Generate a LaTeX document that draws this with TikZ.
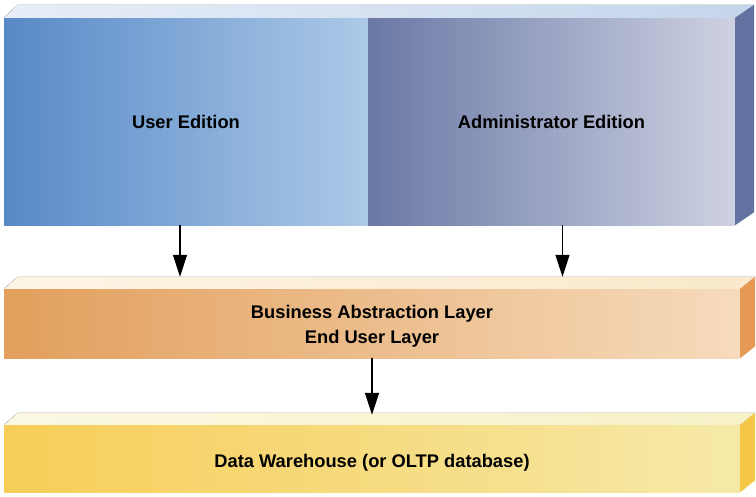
\documentclass[tikz,border=0pt]{standalone}
\usepackage{fontspec}
\setmainfont{Liberation Sans}
\usepackage{tikz}
\usetikzlibrary{arrows.meta}

\definecolor{ueleft}{RGB}{88,137,199}
\definecolor{ueright}{RGB}{172,201,231}
\definecolor{aeleft}{RGB}{106,121,165}
\definecolor{aeright}{RGB}{206,209,226}
\definecolor{bluetop}{RGB}{196,213,236}
\definecolor{blueside}{RGB}{100,114,162}
\definecolor{balleft}{RGB}{226,159,93}
\definecolor{balright}{RGB}{246,219,188}
\definecolor{baltop}{RGB}{250,233,203}
\definecolor{balside}{RGB}{229,153,82}
\definecolor{dwleft}{RGB}{247,205,88}
\definecolor{dwright}{RGB}{246,233,168}
\definecolor{dwtop}{RGB}{246,241,198}
\definecolor{dwside}{RGB}{245,199,72}

\begin{document}
\begin{tikzpicture}[
    x=1pt, y=-1pt,
    layer/.style={rectangle, inner sep=0pt, align=center, font=\fontsize{18.3}{25}\selectfont\bfseries},
    arrow/.style={-{Triangle[width=14pt,length=22pt]}, line width=1.3pt}
]
\useasboundingbox (0,0) rectangle (756,496);

% Top layer: the two editions
\node[layer, minimum width=364pt, minimum height=207pt, left color=ueleft, right color=ueright] at (186,121.5) (ue) {User Edition};
\node[layer, minimum width=367pt, minimum height=207pt, left color=aeleft, right color=aeright] at (551.5,121.5) (ae) {Administrator Edition};
\fill[left color=bluetop!40, right color=bluetop] (ue.north west) -- ++(14,-13) -- ([shift={(19,-13)}]ae.north east) -- (ae.north east) -- cycle;
\fill[blueside] (ae.north east) -- ++(19,-13) -- ([shift={(19,-13)}]ae.south east) -- (ae.south east) -- cycle;

% Middle layer
\node[layer, minimum width=736pt, minimum height=69pt, text height=44pt, text depth=4pt, left color=balleft, right color=balright] at (372,323.5) (bal) {Business Abstraction Layer\\End User Layer};
\fill[left color=baltop!50, right color=baltop] (bal.north west) -- ++(14,-12) -- ([shift={(15,-12)}]bal.north east) -- (bal.north east) -- cycle;
\fill[balside] (bal.north east) -- ++(15,-12) -- ([shift={(15,-12)}]bal.south east) -- (bal.south east) -- cycle;

% Bottom layer
\node[layer, minimum width=736pt, minimum height=67pt, text height=22.5pt, text depth=4pt, left color=dwleft, right color=dwright] at (372,458.5) (dw) {Data Warehouse (or OLTP database)};
\fill[left color=dwtop!50, right color=dwtop] (dw.north west) -- ++(14,-12) -- ([shift={(15,-12)}]dw.north east) -- (dw.north east) -- cycle;
\fill[dwside] (dw.north east) -- ++(15,-12) -- ([shift={(15,-12)}]dw.south east) -- (dw.south east) -- cycle;

% Arrows between layers
\draw[arrow] ([xshift=-6pt]ue.south) -- ([xshift=-6pt,yshift=12pt]ue.south |- bal.north);
\draw[arrow] ([xshift=11pt]ae.south) -- ([xshift=11pt,yshift=12pt]ae.south |- bal.north);
\draw[arrow] (bal.south) -- ([yshift=10pt]dw.north);

\end{tikzpicture}
\end{document}
